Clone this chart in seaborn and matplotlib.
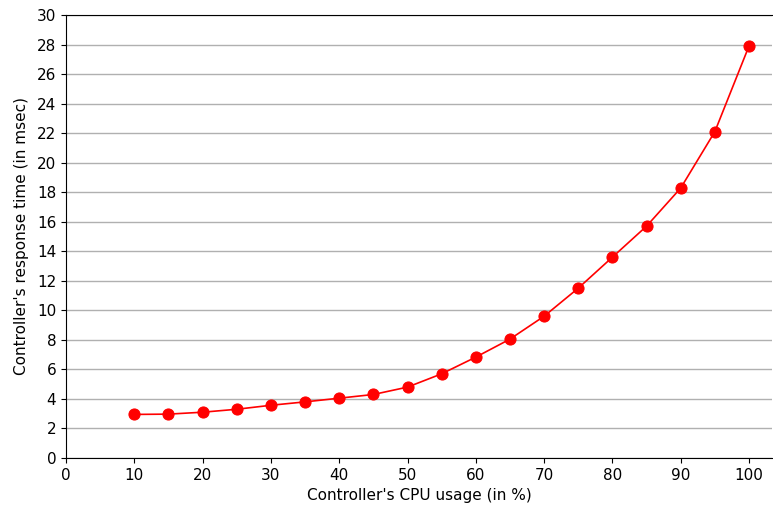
import matplotlib
matplotlib.use("Agg")
import matplotlib.pyplot as plt
import seaborn as sns
import pandas as pd

cpu_usage = [10, 15, 20, 25, 30, 35, 40, 45, 50, 55, 60, 65, 70, 75, 80, 85, 90, 95, 100]
response_ms = [2.95, 2.97, 3.1, 3.3, 3.57, 3.8, 4.05, 4.3, 4.8, 5.7, 6.83, 8.05, 9.6,
               11.5, 13.6, 15.7, 18.28, 22.1, 27.9]

df = pd.DataFrame({"cpu": cpu_usage, "resp": response_ms})

sns.set_style("ticks")
plt.rcParams['font.family'] = ['DejaVu Sans']

fig = plt.figure(figsize=(7.73, 5.12), dpi=100)
ax = fig.add_axes([0.0854, 0.1055, 0.9136, 0.8652])

ax.yaxis.grid(True, color="#b0b0b0", linewidth=1)
ax.set_axisbelow(True)
sns.lineplot(data=df, x="cpu", y="resp", ax=ax, color="red", marker="o",
             markersize=8, markeredgecolor="red", linewidth=1.2)

ax.set_xlim(0, 103.4)
ax.set_ylim(0, 30)
ax.set_xticks(range(0, 101, 10))
ax.set_yticks(range(0, 31, 2))
ax.tick_params(labelsize=11, colors="black")
ax.set_xlabel("Controller's CPU usage (in %)", fontsize=11, color="black")
ax.set_ylabel("Controller's response time (in msec)", fontsize=11, color="black", labelpad=6)
ax.spines["right"].set_visible(False)
for s in ["left", "bottom", "top"]:
    ax.spines[s].set_color("black")

fig.savefig("out.png", dpi=100)
